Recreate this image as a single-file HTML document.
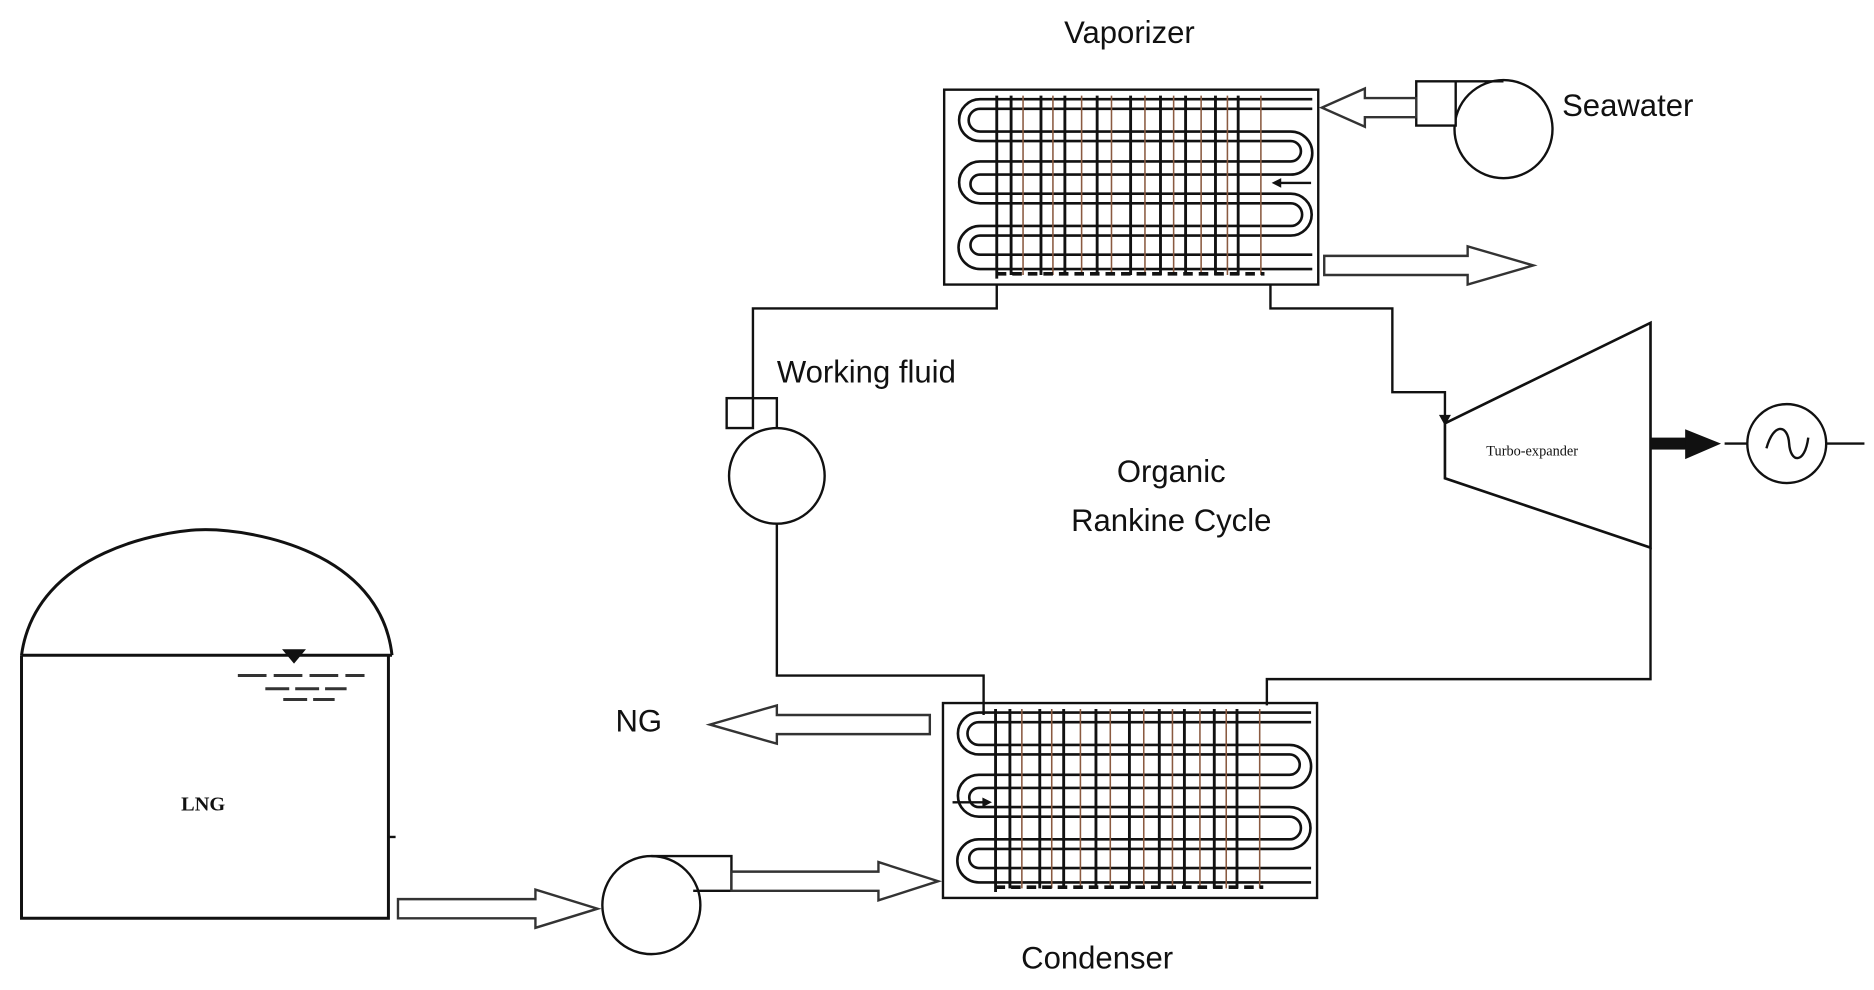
<!DOCTYPE html>
<html><head><meta charset="utf-8"><style>
html,body{margin:0;padding:0;background:#fff;width:1874px;height:990px;overflow:hidden}
svg{display:block}
text{font-family:"Liberation Sans",Arial,sans-serif;fill:#111}
</style></head><body>
<svg width="1874" height="990" viewBox="0 0 1568 828" preserveAspectRatio="none" xmlns="http://www.w3.org/2000/svg">
<defs>
<g id="hx">
  <rect x="0" y="0" width="313" height="163" fill="none" stroke="#111" stroke-width="2"/>
  <g fill="none" stroke="#111" stroke-width="2.2">
    <path d="M308,8 H30 A17.5,17.5 0 0 0 30,43 H290 A8.5,8.5 0 0 1 290,60 H30 A17.5,17.5 0 0 0 30,95 H290 A9.5,9.5 0 0 1 290,114 H30 A18,18 0 0 0 30,150 H308"/>
    <path d="M308,16 H30 A9.5,9.5 0 0 0 30,35 H290 A18,18 0 0 1 290,71 H30 A8,8 0 0 0 30,87 H290 A17.5,17.5 0 0 1 290,122 H30 A8,8 0 0 0 30,138 H308"/>
  </g>
  <g stroke="#111" stroke-width="2.4">
    <line x1="44" y1="5" x2="44" y2="158"/><line x1="56" y1="5" x2="56" y2="155"/>
    <line x1="81" y1="5" x2="81" y2="155"/><line x1="101" y1="5" x2="101" y2="155"/>
    <line x1="128" y1="5" x2="128" y2="155"/><line x1="156" y1="5" x2="156" y2="155"/>
    <line x1="181" y1="5" x2="181" y2="155"/><line x1="202" y1="5" x2="202" y2="155"/>
    <line x1="227" y1="5" x2="227" y2="155"/><line x1="246" y1="5" x2="246" y2="155"/>
  </g>
  <g stroke="#8a5a40" stroke-width="1.3">
    <line x1="66" y1="5" x2="66" y2="155"/><line x1="91" y1="5" x2="91" y2="155"/>
    <line x1="115" y1="5" x2="115" y2="155"/><line x1="140" y1="5" x2="140" y2="155"/>
    <line x1="168" y1="5" x2="168" y2="155"/><line x1="192" y1="5" x2="192" y2="155"/>
    <line x1="215" y1="5" x2="215" y2="155"/><line x1="237" y1="5" x2="237" y2="155"/>
    <line x1="265" y1="5" x2="265" y2="155"/>
  </g>
  <line x1="44" y1="154" x2="268" y2="154" stroke="#111" stroke-width="3" stroke-dasharray="8,5"/>
</g>
</defs>

<!-- Vaporizer -->
<text x="945" y="36" font-size="26" text-anchor="middle">Vaporizer</text>
<use href="#hx" x="790" y="75"/>
<path d="M1097,153 H1068" stroke="#111" stroke-width="2"/><path d="M1064,153 l8,-4 v8z" fill="#111"/>
<!-- seawater pump -->
<circle cx="1258" cy="108" r="41" fill="#fff" stroke="#111" stroke-width="2"/>
<path d="M1218,68 H1258 M1185,68 H1218 V105 H1185 Z" fill="#fff" stroke="#111" stroke-width="2"/>
<polygon points="1185,82 1142,82 1142,74 1106,90 1142,106 1142,98 1185,98" fill="#fff" stroke="#333" stroke-width="2"/>
<text x="1307" y="97" font-size="26">Seawater</text>
<polygon points="1108,214 1228,214 1228,206 1283,222 1228,238 1228,230 1108,230" fill="#fff" stroke="#333" stroke-width="2"/>

<!-- working fluid loop -->
<g fill="none" stroke="#111" stroke-width="2">
<path d="M834,238 V258 H630 V333"/>
<path d="M1063,238 V258 H1165 V328 H1209 V350"/>
<path d="M650,438 V565 H823 V598"/>
<path d="M1381,458 V568 H1060 V590"/>
</g>
<path d="M1209,356 l-5,-9 h10z" fill="#111"/>
<circle cx="650" cy="398" r="40" fill="#fff" stroke="#111" stroke-width="2"/>
<rect x="608" y="333" width="22" height="25" fill="none" stroke="#111" stroke-width="2"/>
<path d="M630,333 H650 V358" fill="none" stroke="#111" stroke-width="2"/>
<text x="650" y="320" font-size="26">Working fluid</text>
<text x="980" y="403" font-size="26" text-anchor="middle">Organic</text>
<text x="980" y="444" font-size="26" text-anchor="middle">Rankine Cycle</text>

<!-- turbine -->
<polygon points="1209,354 1381,270 1381,458 1209,400" fill="#fff" stroke="#111" stroke-width="2.2"/>
<text x="1282" y="381" font-size="12" text-anchor="middle" style="font-family:'Liberation Serif',serif">Turbo-expander</text>
<rect x="1381" y="366" width="30" height="10" fill="#111"/>
<polygon points="1410,359 1440,371 1410,384" fill="#111"/>
<line x1="1443" y1="371" x2="1462" y2="371" stroke="#111" stroke-width="2"/>
<circle cx="1495" cy="371" r="33" fill="none" stroke="#111" stroke-width="2"/>
<path d="M1478,375 C1484,353 1496,355 1497,371 C1498,387 1510,389 1513,366" fill="none" stroke="#111" stroke-width="2"/>
<line x1="1528" y1="371" x2="1560" y2="371" stroke="#111" stroke-width="2"/>

<!-- Condenser -->
<use href="#hx" x="789" y="588"/>
<path d="M797,671 H826" stroke="#111" stroke-width="2"/><path d="M830,671 l-8,-4 v8z" fill="#111"/>
<text x="918" y="810" font-size="26" text-anchor="middle">Condenser</text>
<polygon points="778,598 650,598 650,590 594,606 650,622 650,614 778,614" fill="#fff" stroke="#333" stroke-width="2"/>
<text x="515" y="612" font-size="26">NG</text>

<!-- Tank -->
<path d="M18,548 C30,460 140,443 172,443 C210,443 318,460 328,548" fill="none" stroke="#111" stroke-width="2.5"/>
<path d="M18,548 V768 H325 V548 M18,548 L328,548" fill="none" stroke="#111" stroke-width="2.5"/>
<polygon points="236,543 256,543 246,555" fill="#111"/>
<g stroke="#333" stroke-width="2.5"><line x1="199" y1="565" x2="305" y2="565" stroke-dasharray="24,6"/><line x1="222" y1="576" x2="290" y2="576" stroke-dasharray="20,5"/><line x1="237" y1="585" x2="280" y2="585" stroke-dasharray="20,5"/></g>
<text x="170" y="678" font-size="17" text-anchor="middle" font-weight="bold" style="font-family:'Liberation Serif',serif">LNG</text>
<line x1="325" y1="700" x2="331" y2="700" stroke="#111" stroke-width="2"/>

<!-- LNG pump -->
<polygon points="333,752 448,752 448,744 500,760 448,776 448,768 333,768" fill="#fff" stroke="#333" stroke-width="2"/>
<circle cx="545" cy="757" r="41" fill="#fff" stroke="#111" stroke-width="2"/>
<path d="M545,716 H612 V745 H580" fill="none" stroke="#111" stroke-width="2"/>
<polygon points="612,729 735,729 735,721 785,737 735,753 735,745 612,745" fill="#fff" stroke="#333" stroke-width="2"/>
</svg>
</body></html>
